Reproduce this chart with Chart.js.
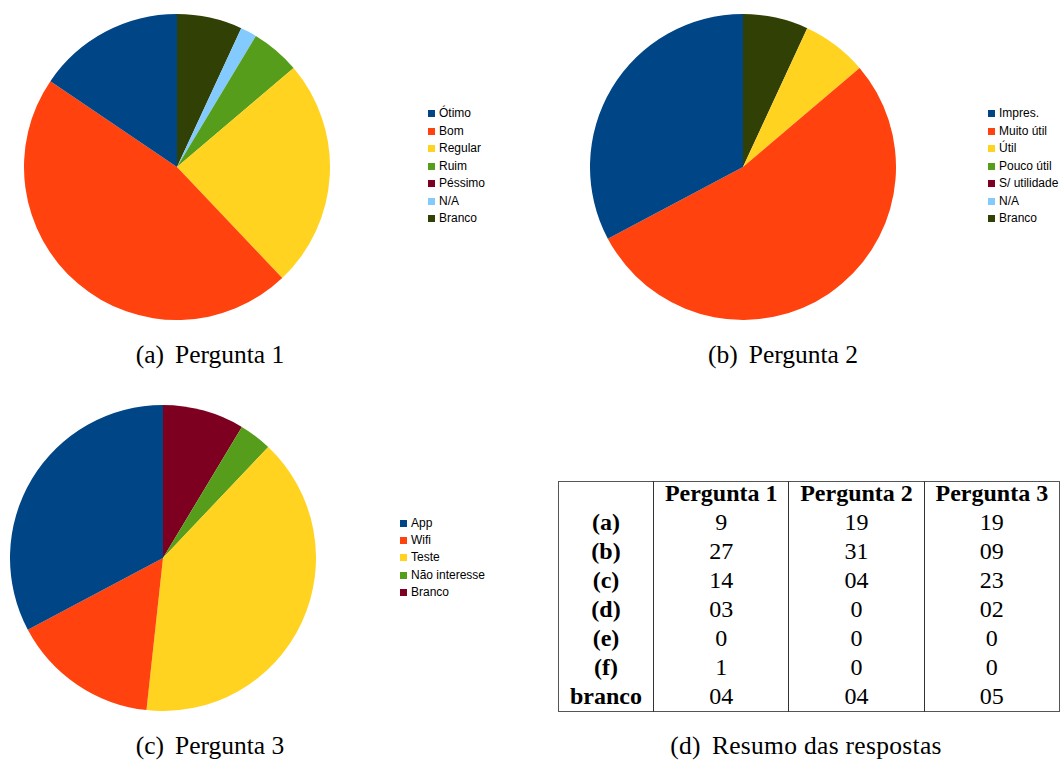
<!DOCTYPE html>
<html>
<head>
<meta charset="utf-8">
<script src="https://cdn.jsdelivr.net/npm/chart.js@4.4.1/dist/chart.umd.min.js"></script>
<style>
  html, body { margin:0; padding:0; background:#fff; width:1060px; height:762px; overflow:hidden; position:relative; }
  .pie { position:absolute; width:306px; height:306px; }
  .legend { position:absolute; font-family:"Liberation Sans", Arial, sans-serif; font-size:12px; color:#000; }
  .legend .item { position:absolute; left:0; white-space:nowrap; height:14px; line-height:14px; }
  .legend .box { position:absolute; left:0; top:3px; width:7px; height:7px; }
  .legend .txt { position:absolute; left:11px; top:-1px; }
  .cap { position:absolute; font-family:"Liberation Serif", "Times New Roman", serif; font-size:25.5px; line-height:25.5px; color:#000; white-space:nowrap; transform:translateX(-50%); }
  .cap .lab { margin-right:11px; }
  table.res { position:absolute; left:558px; top:481px; border-collapse:collapse; font-family:"Liberation Serif", "Times New Roman", serif; font-size:24px; color:#000; }
  table.res td, table.res th { padding:0; text-align:center; height:29px; line-height:29px; }
  table.res th { font-weight:bold; }
  table.res tr.hd th, table.res tr.hd td { height:23px; line-height:23px; padding-bottom:3px; }
</style>
</head>
<body>
<div class="pie" style="left:24px; top:14px;"><canvas id="p1"></canvas></div>
<div class="pie" style="left:590px; top:14px;"><canvas id="p2"></canvas></div>
<div class="pie" style="left:10px; top:405px;"><canvas id="p3"></canvas></div>
<div class="legend" id="l1" style="left:428px; top:107px;"></div>
<div class="legend" id="l2" style="left:988px; top:107px;"></div>
<div class="legend" id="l3" style="left:400px; top:517px;"></div>
<div class="cap" style="left:210px; top:342px;"><span class="lab">(a)</span>Pergunta 1</div>
<div class="cap" style="left:783px; top:342px;"><span class="lab">(b)</span>Pergunta 2</div>
<div class="cap" style="left:210px; top:733px;"><span class="lab">(c)</span>Pergunta 3</div>
<div class="cap" style="left:806px; top:733px; letter-spacing:0.3px;"><span class="lab">(d)</span>Resumo das respostas</div>
<table class="res" id="tbl"></table>
<script>
// ---- data ----
const palette = ['#004586', '#ff420e', '#ffd320', '#579d1c', '#7e0021', '#83caff', '#314004'];

const labels1 = ['Ótimo', 'Bom', 'Regular', 'Ruim', 'Péssimo', 'N/A', 'Branco'];
const values1 = [9, 27, 14, 3, 0, 1, 4];

const labels2 = ['Impres.', 'Muito útil', 'Útil', 'Pouco útil', 'S/ utilidade', 'N/A', 'Branco'];
const values2 = [19, 31, 4, 0, 0, 0, 4];

const labels3 = ['App', 'Wifi', 'Teste', 'Não interesse', 'Branco'];
const values3 = [19, 9, 23, 2, 5];
const colors3 = ['#004586', '#ff420e', '#ffd320', '#579d1c', '#7e0021'];

const tableHeader = ['', 'Pergunta 1', 'Pergunta 2', 'Pergunta 3'];
const tableRows = ['(a)', '(b)', '(c)', '(d)', '(e)', '(f)', 'branco'];
const tableP1 = ['9', '27', '14', '03', '0', '1', '04'];
const tableP2 = ['19', '31', '04', '0', '0', '0', '04'];
const tableP3 = ['19', '09', '23', '02', '0', '0', '05'];

// ---- pies (drawn counter-clockwise from the top: reverse order, clockwise) ----
function makePie(id, labels, values, colors) {
  const L = labels.slice().reverse();
  const V = values.slice().reverse();
  const C = colors.slice(0, labels.length).reverse();
  new Chart(document.getElementById(id), {
    type: 'pie',
    data: { labels: L, datasets: [{ data: V, backgroundColor: C, borderWidth: 0, borderColor: C }] },
    options: {
      responsive: true, maintainAspectRatio: false, animation: false,
      rotation: 0,
      layout: { padding: 0 },
      plugins: { legend: { display: false }, tooltip: { enabled: false } }
    }
  });
}
makePie('p1', labels1, values1, palette);
makePie('p2', labels2, values2, palette);
makePie('p3', labels3, values3, colors3);

function makeLegend(id, labels, colors, step) {
  const el = document.getElementById(id);
  labels.forEach((t, i) => {
    const it = document.createElement('div');
    it.className = 'item';
    it.style.top = (i * step) + 'px';
    it.innerHTML = '<span class="box" style="background:' + colors[i] + '"></span><span class="txt"></span>';
    it.querySelector('.txt').textContent = t;
    el.appendChild(it);
  });
}
makeLegend('l1', labels1, palette, 17.5);
makeLegend('l2', labels2, palette, 17.5);
makeLegend('l3', labels3, colors3, 17.2);

// ---- table ----
const tbl = document.getElementById('tbl');
const widths = [95, 136, 136, 136];
let hr = document.createElement('tr'); hr.className = 'hd';
tableHeader.forEach((h, j) => {
  const c = document.createElement('th'); c.textContent = h; c.style.width = widths[j] + 'px';
  hr.appendChild(c);
});
tbl.appendChild(hr);
tableRows.forEach((r, i) => {
  const tr = document.createElement('tr');
  const th = document.createElement('th'); th.textContent = r; tr.appendChild(th);
  [tableP1[i], tableP2[i], tableP3[i]].forEach(v => { const td = document.createElement('td'); td.textContent = v; tr.appendChild(td); });
  tbl.appendChild(tr);
});
</script>
<style>
  table.res { border:1.5px solid #555; }
  table.res tr > *:not(:first-child) { border-left:1px solid #333; }
  table.res tr > *:nth-child(1) { border-left:none; }
</style>
</body>
</html>
